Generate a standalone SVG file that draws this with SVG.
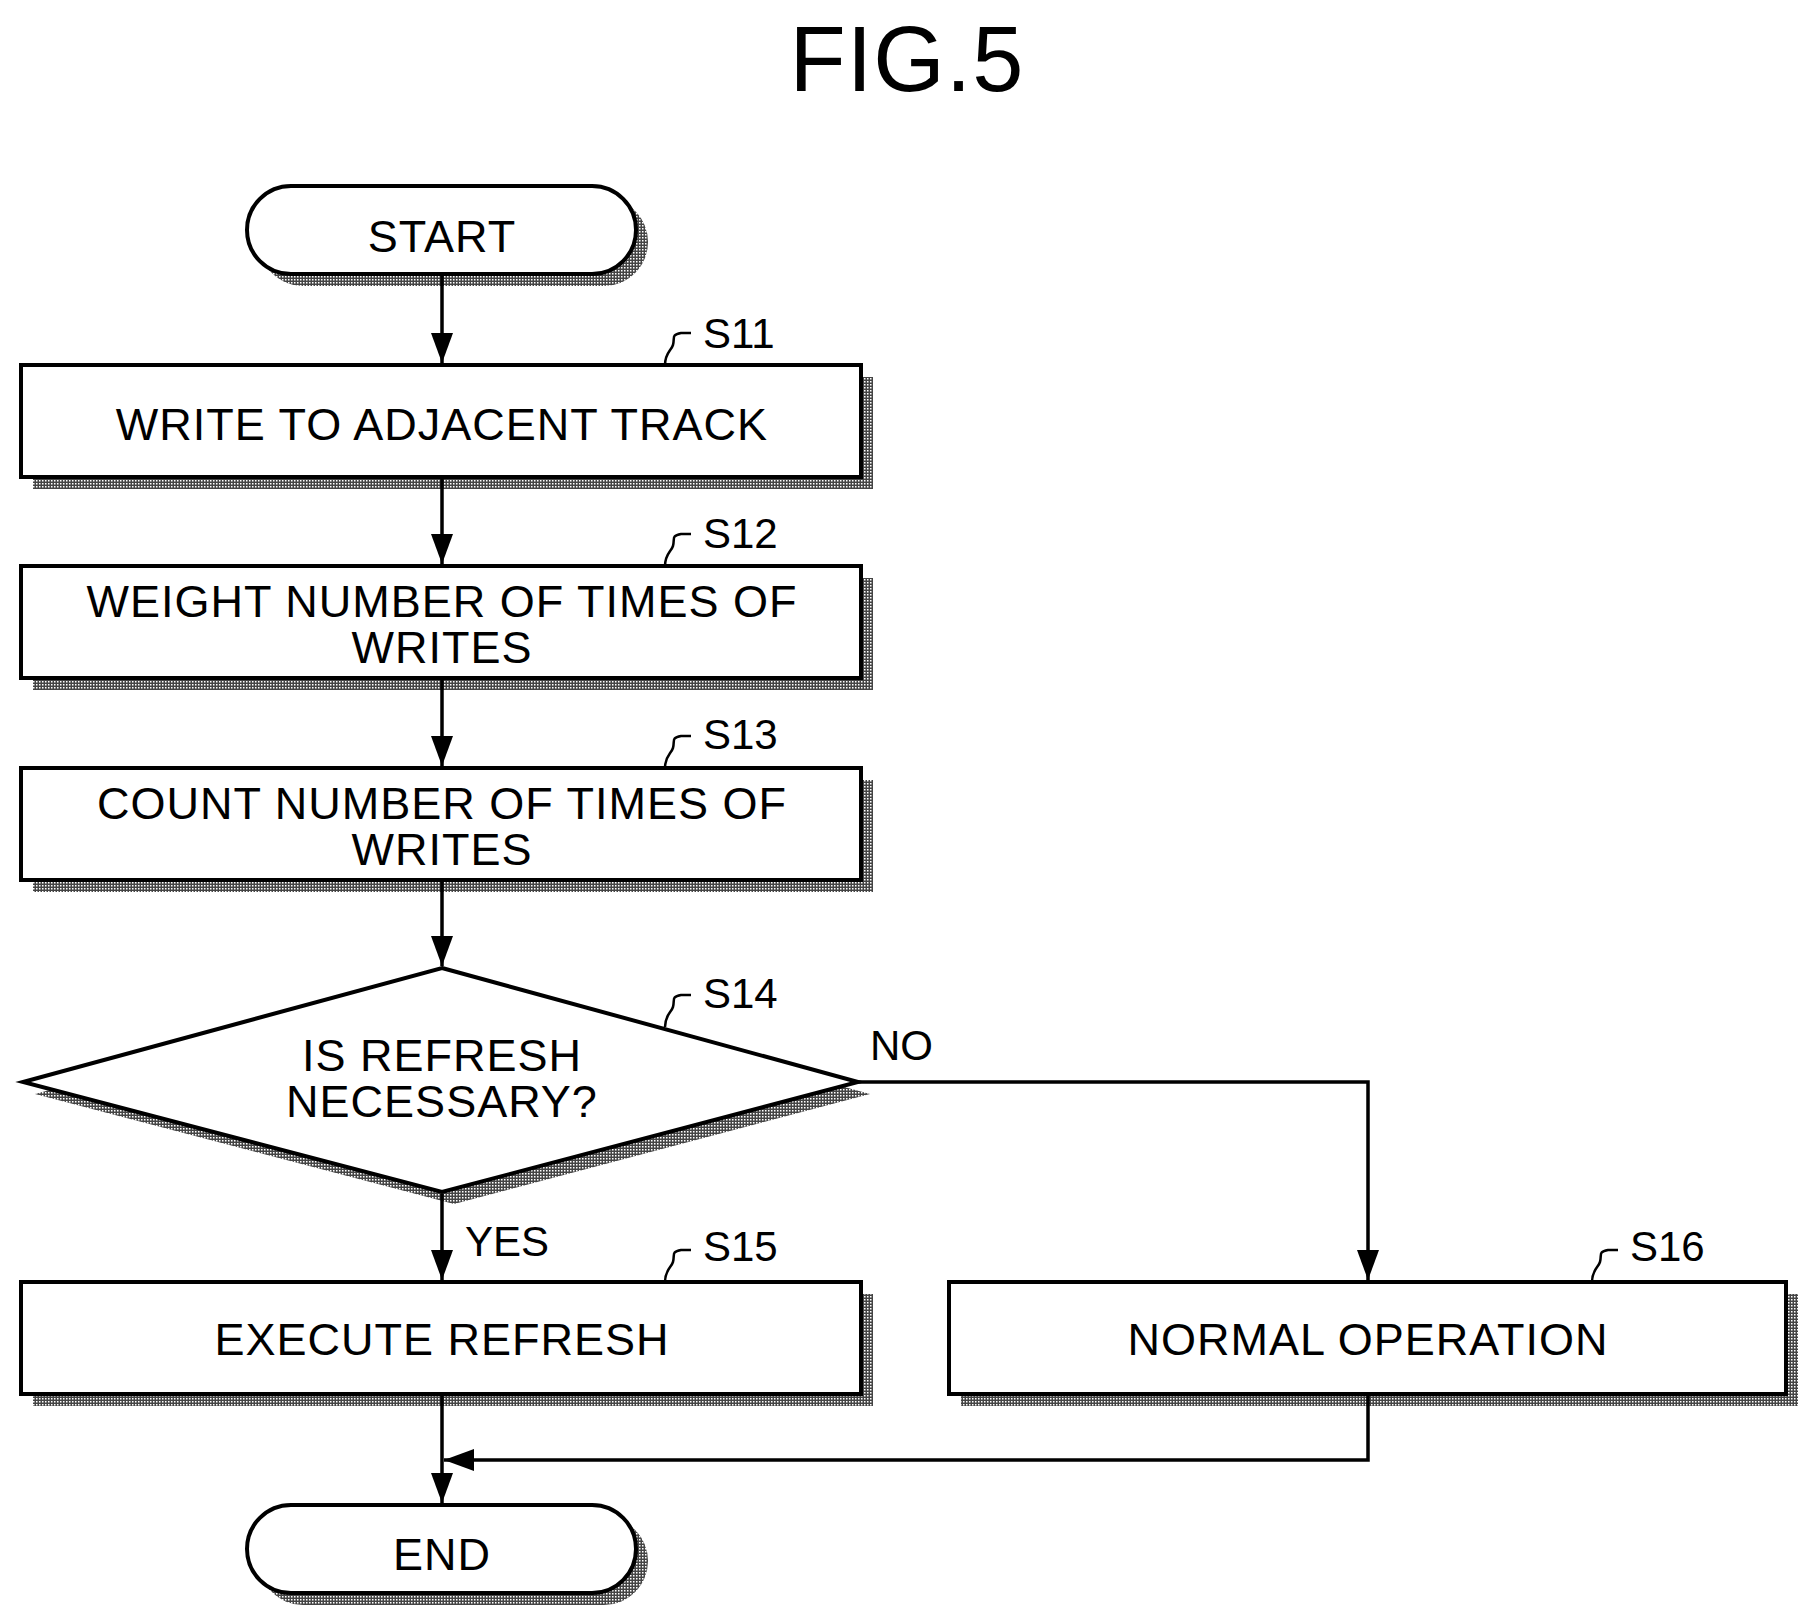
<svg xmlns="http://www.w3.org/2000/svg" width="1814" height="1620" viewBox="0 0 1814 1620">
<defs>
<pattern id="dots" width="3" height="3" patternUnits="userSpaceOnUse"><rect width="3" height="3" fill="#444"/><rect width="1.5" height="1.5" fill="#fff"/></pattern>
<marker id="ah" viewBox="0 0 30 22" refX="30" refY="11" markerWidth="30" markerHeight="22" markerUnits="userSpaceOnUse" orient="auto"><path d="M0,0 L30,11 L0,22 z" fill="#000"/></marker>
</defs>
<style>
.b{fill:#fff;stroke:#000;stroke-width:4}
.sh{fill:url(#dots);stroke:none}
.t{font-family:"Liberation Sans",Arial,sans-serif;font-size:45px;text-anchor:middle;fill:#000;letter-spacing:1px}
.l{font-family:"Liberation Sans",Arial,sans-serif;font-size:42px;fill:#000}
.c{fill:none;stroke:#000;stroke-width:3.5}
.q{fill:none;stroke:#000;stroke-width:2.5}
</style>
<rect width="1814" height="1620" fill="#fff"/>
<text x="907" y="91" class="t" style="font-size:92px">FIG.5</text>
<g id="start"><rect class="sh" x="259" y="198" width="389" height="88" rx="44"/><rect class="b" x="247" y="186" width="389" height="88" rx="44"/><text x="442" y="252" class="t">START</text></g>
<g id="s11"><rect class="sh" x="33" y="377" width="840" height="112"/><rect class="b" x="21" y="365" width="840" height="112"/><text x="442" y="440" class="t">WRITE TO ADJACENT TRACK</text><path class="q" d="M665,365 c0,-12 6,-14 8,-20 c2,-8 -2,-10 8,-12 l10,0"/><text x="703" y="348" class="l">S11</text></g>
<g id="s12"><rect class="sh" x="33" y="578" width="840" height="112"/><rect class="b" x="21" y="566" width="840" height="112"/><text x="442" y="617" class="t">WEIGHT NUMBER OF TIMES OF</text><text x="442" y="663" class="t">WRITES</text><path class="q" d="M665,566 c0,-12 6,-14 8,-20 c2,-8 -2,-10 8,-12 l10,0"/><text x="703" y="548" class="l">S12</text></g>
<g id="s13"><rect class="sh" x="33" y="780" width="840" height="112"/><rect class="b" x="21" y="768" width="840" height="112"/><text x="442" y="819" class="t">COUNT NUMBER OF TIMES OF</text><text x="442" y="865" class="t">WRITES</text><path class="q" d="M665,768 c0,-12 6,-14 8,-20 c2,-8 -2,-10 8,-12 l10,0"/><text x="703" y="749" class="l">S13</text></g>
<g id="s14"><polygon class="sh" points="454,980 870,1094 454,1204 35,1094"/><polygon class="b" points="442,968 858,1082 442,1192 23,1082"/><text x="442" y="1071" class="t">IS REFRESH</text><text x="442" y="1117" class="t">NECESSARY?</text><path class="q" d="M665,1027 c0,-12 6,-14 8,-20 c2,-8 -2,-10 8,-12 l10,0"/><text x="703" y="1008" class="l">S14</text></g>
<g id="s15"><rect class="sh" x="33" y="1294" width="840" height="112"/><rect class="b" x="21" y="1282" width="840" height="112"/><text x="442" y="1355" class="t">EXECUTE REFRESH</text><path class="q" d="M665,1282 c0,-12 6,-14 8,-20 c2,-8 -2,-10 8,-12 l10,0"/><text x="703" y="1261" class="l">S15</text></g>
<g id="s16"><rect class="sh" x="961" y="1294" width="837" height="112"/><rect class="b" x="949" y="1282" width="837" height="112"/><text x="1368" y="1355" class="t">NORMAL OPERATION</text><path class="q" d="M1592,1282 c0,-12 6,-14 8,-20 c2,-8 -2,-10 8,-12 l10,0"/><text x="1630" y="1261" class="l">S16</text></g>
<g id="end"><rect class="sh" x="259" y="1517" width="389" height="88" rx="44"/><rect class="b" x="247" y="1505" width="389" height="88" rx="44"/><text x="442" y="1570" class="t">END</text></g>
<g id="connectors">
<line class="c" x1="442" y1="276" x2="442" y2="363" marker-end="url(#ah)"/>
<line class="c" x1="442" y1="479" x2="442" y2="564" marker-end="url(#ah)"/>
<line class="c" x1="442" y1="680" x2="442" y2="766" marker-end="url(#ah)"/>
<line class="c" x1="442" y1="882" x2="442" y2="966" marker-end="url(#ah)"/>
<line class="c" x1="442" y1="1194" x2="442" y2="1280" marker-end="url(#ah)"/>
<polyline class="c" points="858,1082 1368,1082 1368,1280" marker-end="url(#ah)"/>
<line class="c" x1="442" y1="1396" x2="442" y2="1503" marker-end="url(#ah)"/>
<polyline class="c" points="1368,1396 1368,1460 444,1460" marker-end="url(#ah)"/>
<text x="870" y="1060" class="l">NO</text>
<text x="465" y="1256" class="l">YES</text>
</g>
</svg>
